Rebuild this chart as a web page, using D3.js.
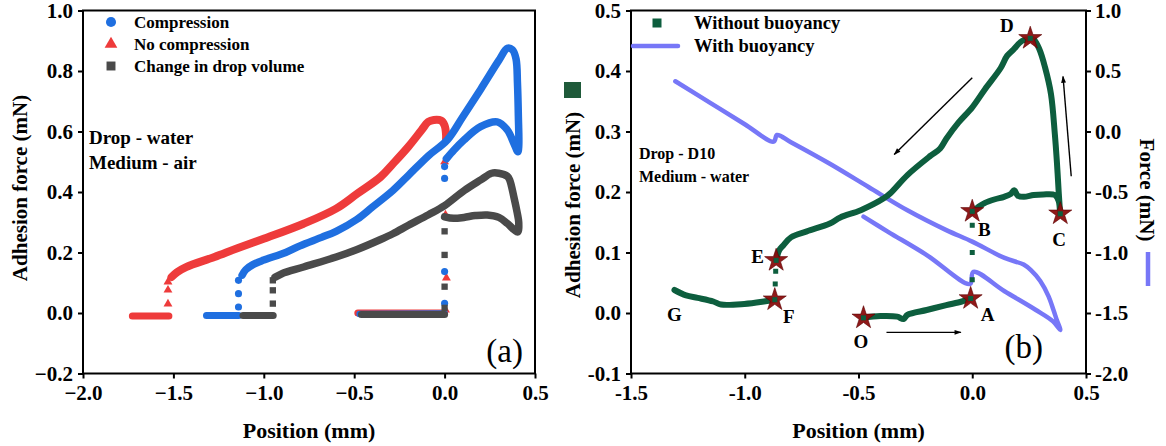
<!DOCTYPE html>
<html><head><meta charset="utf-8">
<script src="https://cdn.jsdelivr.net/npm/d3@7"></script>
<style>
body{margin:0;background:#fff}
svg{display:block}
text{font-family:"Liberation Serif","Times New Roman",serif}
</style>
</head><body>
<svg id="c" width="1166" height="446"></svg>
<script>
// ---------------- Panel (a) data ----------------
const posTicksA = [-2.0, -1.5, -1.0, -0.5, 0.0, 0.5];
const forceTicksA = [-0.2, 0.0, 0.2, 0.4, 0.6, 0.8, 1.0];
const seriesNamesA = ["Compression", "No compression", "Change in drop volume"];

// Compression (blue)
const compFlatX = [-1.317, -1.139];
const compFlatY = [-0.008, -0.008];
const compApproachX = [-0.47, 0.0];
const compApproachY = [-0.003, -0.002];
const compJumpX = [-1.14, -1.14, -1.14, 0.0, 0.0, 0.0, 0.0];
const compJumpY = [0.02, 0.064, 0.108, 0.032, 0.137, 0.445, 0.484];
const compLoopX = [0.01, 0.052, 0.107, 0.199, 0.291, 0.347, 0.383, 0.405, 0.41, 0.408, 0.403, 0.395, 0.375, 0.347, 0.3, 0.2, 0.1, 0.015, -0.089, -0.2, -0.286, -0.4, -0.484, -0.6, -0.681, -0.8, -0.879, -1.0, -1.06, -1.1, -1.12];
const compLoopY = [0.51, 0.539, 0.572, 0.616, 0.632, 0.605, 0.561, 0.533, 0.55, 0.65, 0.76, 0.84, 0.87, 0.875, 0.835, 0.74, 0.648, 0.572, 0.52, 0.455, 0.405, 0.35, 0.31, 0.27, 0.25, 0.222, 0.2, 0.175, 0.16, 0.143, 0.125];

// No compression (red)
const noCompFlatX = [-1.727, -1.525];
const noCompFlatY = [-0.01, -0.01];
const noCompApproachX = [-0.48, 0.0];
const noCompApproachY = [0.0, 0.0];
const noCompJumpX = [-1.53, -1.53, -1.53, 0.005, 0.01, 0.005, 0.0];
const noCompJumpY = [0.03, 0.076, 0.103, 0.01, 0.116, 0.324, 0.5];
const noCompCurveX = [0.008, 0.008, 0.0, -0.02, -0.06, -0.09, -0.128, -0.2, -0.286, -0.354, -0.484, -0.6, -0.78, -0.997, -1.15, -1.273, -1.43, -1.48, -1.51];
const noCompCurveY = [0.575, 0.59, 0.62, 0.636, 0.638, 0.632, 0.604, 0.55, 0.493, 0.45, 0.394, 0.345, 0.295, 0.246, 0.213, 0.185, 0.152, 0.135, 0.119];

// Change in drop volume (dark grey)
const volFlatX = [-1.115, -0.948];
const volFlatY = [-0.008, -0.008];
const volApproachX = [-0.46, 0.0];
const volApproachY = [-0.005, -0.005];
const volJumpX = [-0.95, -0.95, -0.95, 0.0, 0.0, 0.0, 0.0];
const volJumpY = [0.031, 0.075, 0.108, 0.017, 0.087, 0.192, 0.27];
const volLoopX = [0.0, 0.05, 0.107, 0.17, 0.236, 0.3, 0.347, 0.385, 0.405, 0.41, 0.402, 0.383, 0.36, 0.347, 0.3, 0.26, 0.2, 0.109, 0.0, -0.089, -0.2, -0.286, -0.354, -0.484, -0.6, -0.78, -0.9, -0.938];
const volLoopY = [0.318, 0.313, 0.316, 0.322, 0.324, 0.316, 0.296, 0.275, 0.268, 0.3, 0.33, 0.384, 0.44, 0.452, 0.462, 0.462, 0.44, 0.405, 0.355, 0.325, 0.29, 0.262, 0.243, 0.21, 0.185, 0.152, 0.13, 0.118];

// ---------------- Panel (b) data ----------------
const posTicksB = [-1.5, -1.0, -0.5, 0.0, 0.5];
const adhTicksB = [-0.1, 0.0, 0.1, 0.2, 0.3, 0.4, 0.5];
const forceTicksB = [-2.0, -1.5, -1.0, -0.5, 0.0, 0.5, 1.0];
const seriesNamesB = ["Without buoyancy", "With buoyancy"];

// Without buoyancy (adhesion force, left axis) segments
const oaX = [-0.481, -0.404, -0.33, -0.302, -0.285, -0.2, -0.114, -0.046, -0.007];
const oaY = [-0.008, -0.005, -0.006, -0.01, -0.003, 0.005, 0.013, 0.019, 0.024];
const abDotsX = [0.0, 0.0, 0.0];
const abDotsY = [0.055, 0.1, 0.145];
const bcdeX = [0.0, 0.03, 0.056, 0.1, 0.14, 0.17, 0.184, 0.2, 0.227, 0.27, 0.312, 0.363, 0.38, 0.386, 0.38, 0.372, 0.363, 0.346, 0.32, 0.295, 0.27, 0.253, 0.22, 0.18, 0.153, 0.125, 0.056, 0.0, -0.06, -0.114, -0.141, -0.183, -0.285, -0.36, -0.387, -0.49, -0.58, -0.626, -0.727, -0.797, -0.83, -0.848, -0.862];
const bcdeY = [0.166, 0.176, 0.182, 0.188, 0.192, 0.197, 0.203, 0.194, 0.192, 0.195, 0.196, 0.195, 0.185, 0.164, 0.2, 0.25, 0.296, 0.362, 0.406, 0.436, 0.452, 0.453, 0.45, 0.435, 0.425, 0.405, 0.37, 0.34, 0.315, 0.288, 0.272, 0.26, 0.228, 0.198, 0.19, 0.17, 0.158, 0.148, 0.135, 0.125, 0.112, 0.104, 0.087];
const efDotsX = [-0.864, -0.866];
const efDotsY = [0.069, 0.048];
const fgX = [-0.868, -0.916, -1.002, -1.104, -1.138, -1.207, -1.258, -1.309];
const fgY = [0.022, 0.019, 0.015, 0.014, 0.019, 0.025, 0.029, 0.038];

// With buoyancy (force, right axis)
const buoyX = [-0.478, -0.37, -0.2, -0.01, 0.005, 0.142, 0.278, 0.355, 0.387, 0.372, 0.357, 0.335, 0.299, 0.26, 0.226, 0.142, 0.0, -0.114, -0.285, -0.456, -0.626, -0.797, -0.858, -0.873, -1.0, -1.15, -1.305];
const buoyY = [-0.704, -0.829, -1.021, -1.26, -1.16, -1.32, -1.473, -1.569, -1.64, -1.56, -1.475, -1.36, -1.235, -1.15, -1.1, -1.045, -0.91, -0.815, -0.651, -0.459, -0.267, -0.089, -0.029, -0.084, 0.06, 0.235, 0.415];

// Key points (stars) and their letters
const pointNames = ["O", "A", "B", "C", "D", "E", "F", "G"];
const starX = [-0.478, -0.007, 0.0, 0.387, 0.255, -0.862, -0.868];
const starY = [-0.008, 0.024, 0.168, 0.164, 0.454, 0.087, 0.022];
const letterX = [-0.49, 0.067, 0.053, 0.382, 0.152, -0.943, -0.806, -1.309];
const letterY = [-0.047, -0.003, 0.138, 0.121, 0.476, 0.094, -0.005, -0.003];

// Direction arrows [x1, y1, x2, y2] in data units (left axis)
const arrowsB = [
  [0.0, 0.389, -0.343, 0.262],
  [0.435, 0.226, 0.399, 0.391],
  [-0.377, -0.032, -0.05, -0.032]
];

// ---------------- Drawing ----------------
const zip = (xs, ys) => xs.map((x, i) => [x, ys[i]]);
const svg = d3.select("#c");
const FONT = '"Liberation Serif","Times New Roman",serif';
const smooth = d3.curveCatmullRom.alpha(0.5);

const cBlue = "#1f6fe0", cRed = "#ee3b3b", cGrey = "#4a4a4a";
const cGreen = "#0d5e3e", cLine = "#7777f7", cStar = "#8a0d0d";

function styleAxis(g, size) {
  g.select(".domain").remove();
  g.selectAll(".tick line").attr("stroke", "#000").attr("stroke-width", 2);
  g.selectAll(".tick text").attr("fill", "#000").style("font-family", FONT)
    .style("font-weight", "bold").style("font-size", size + "px");
}

// ===== Panel (a) =====
const xA = d3.scaleLinear().domain([-2, 0.5]).range([83, 535]);
const yA = d3.scaleLinear().domain([-0.2, 1.0]).range([373.5, 10.5]);
const gA = svg.append("g");

const lineA = d3.line().x(d => xA(d[0])).y(d => yA(d[1])).curve(smooth);

function thick(g, xs, ys, color, w) {
  g.append("path").datum(zip(xs, ys)).attr("d", lineA).attr("fill", "none")
    .attr("stroke", color).attr("stroke-width", w)
    .attr("stroke-linejoin", "round").attr("stroke-linecap", "round");
}
function markers(g, xs, ys, type, size, color) {
  g.selectAll(null).data(zip(xs, ys)).enter().append("path")
    .attr("d", d3.symbol().type(type).size(size))
    .attr("transform", d => `translate(${xA(d[0])},${yA(d[1])})`)
    .attr("fill", color);
}

// red
thick(gA, noCompFlatX, noCompFlatY, cRed, 7);
thick(gA, noCompCurveX, noCompCurveY, cRed, 8);
thick(gA, noCompApproachX, noCompApproachY, cRed, 7);
markers(gA, noCompJumpX, noCompJumpY, d3.symbolTriangle, 34, cRed);
// blue
thick(gA, compFlatX, compFlatY, cBlue, 7);
thick(gA, compLoopX, compLoopY, cBlue, 7.5);
thick(gA, compApproachX, compApproachY, cBlue, 6.5);
markers(gA, compJumpX, compJumpY, d3.symbolCircle, 40, cBlue);
// grey
thick(gA, volFlatX, volFlatY, cGrey, 7);
thick(gA, volLoopX, volLoopY, cGrey, 7.5);
thick(gA, volApproachX, volApproachY, cGrey, 7);
markers(gA, volJumpX, volJumpY, d3.symbolSquare, 40, cGrey);

// axes (a)
gA.append("g").attr("transform", "translate(0,373.5)")
  .call(d3.axisBottom(xA).tickValues(posTicksA).tickFormat(d3.format(".1f")).tickSize(5).tickSizeOuter(0).tickPadding(7))
  .call(g => styleAxis(g, 21));
gA.append("g").attr("transform", "translate(83,0)")
  .call(d3.axisLeft(yA).tickValues(forceTicksA).tickFormat(d3.format(".1f")).tickSize(5).tickSizeOuter(0).tickPadding(5))
  .call(g => styleAxis(g, 21));
gA.append("rect").attr("x", 83).attr("y", 10.5).attr("width", 452).attr("height", 363)
  .attr("fill", "none").attr("stroke", "#000").attr("stroke-width", 2);

// legend (a)
const legA = [[d3.symbolCircle, 80, cBlue], [d3.symbolTriangle, 70, cRed], [d3.symbolSquare, 80, cGrey]];
seriesNamesA.forEach((name, i) => {
  const yy = 22 + i * 22;
  gA.append("path").attr("d", d3.symbol().type(legA[i][0]).size(legA[i][1])())
    .attr("transform", `translate(111,${yy})`).attr("fill", legA[i][2]);
  gA.append("text").attr("x", 134).attr("y", yy + 6).text(name)
    .style("font-weight", "bold").style("font-size", "17px");
});
gA.append("text").attr("x", 89).attr("y", 144).text("Drop - water").style("font-weight", "bold").style("font-size", "19px");
gA.append("text").attr("x", 89).attr("y", 169).text("Medium - air").style("font-weight", "bold").style("font-size", "19px");
gA.append("text").attr("x", 523).attr("y", 362).attr("text-anchor", "end").text("(a)").style("font-size", "33px");
gA.append("text").attr("x", 309).attr("y", 438).attr("text-anchor", "middle").text("Position (mm)")
  .style("font-weight", "bold").style("font-size", "22px");
gA.append("text").attr("transform", "translate(27,188) rotate(-90)").attr("text-anchor", "middle")
  .text("Adhesion force (mN)").style("font-weight", "bold").style("font-size", "21px");

// ===== Panel (b) =====
const xB = d3.scaleLinear().domain([-1.5, 0.5]).range([631, 1086]);
const yBL = d3.scaleLinear().domain([-0.1, 0.5]).range([373.5, 10.5]);
const yBR = d3.scaleLinear().domain([-2.0, 1.0]).range([373.5, 10.5]);
const gB = svg.append("g");
const lineBL = d3.line().x(d => xB(d[0])).y(d => yBL(d[1])).curve(smooth);
const lineBR = d3.line().x(d => xB(d[0])).y(d => yBR(d[1])).curve(smooth);
const fmtB = v => d3.format(".1f")(v).replace("\u2212", "-");

gB.append("path").datum(zip(buoyX, buoyY)).attr("d", lineBR).attr("fill", "none")
  .attr("stroke", cLine).attr("stroke-width", 4.5).attr("stroke-linejoin", "round").attr("stroke-linecap", "round");

[[oaX, oaY], [bcdeX, bcdeY], [fgX, fgY]].forEach(([xs, ys]) => {
  gB.append("path").datum(zip(xs, ys)).attr("d", lineBL).attr("fill", "none")
    .attr("stroke", cGreen).attr("stroke-width", 6).attr("stroke-linejoin", "round").attr("stroke-linecap", "round");
});
gB.selectAll(null).data(zip(abDotsX.concat(efDotsX), abDotsY.concat(efDotsY))).enter().append("rect")
  .attr("x", d => xB(d[0]) - 2.5).attr("y", d => yBL(d[1]) - 2.5).attr("width", 5).attr("height", 5).attr("fill", cGreen);

gB.selectAll(null).data(zip(starX, starY)).enter().append("path")
  .attr("d", d3.symbol().type(d3.symbolStar).size(165))
  .attr("transform", d => `translate(${xB(d[0])},${yBL(d[1])})`)
  .attr("fill", cStar).attr("fill-opacity", 0.95).attr("stroke", "#5a0000").attr("stroke-width", 0.6);
gB.selectAll(null).data(zip(starX, starY)).enter().append("rect")
  .attr("x", d => xB(d[0]) - 2.5).attr("y", d => yBL(d[1]) - 2.5).attr("width", 5).attr("height", 5).attr("fill", cGreen);

pointNames.forEach((n, i) => {
  gB.append("text").attr("x", xB(letterX[i])).attr("y", yBL(letterY[i])).attr("dy", "0.35em")
    .attr("text-anchor", "middle").text(n).style("font-weight", "bold").style("font-size", "19px");
});

const defs = svg.append("defs");
defs.append("marker").attr("id", "ah").attr("viewBox", "0 0 10 10").attr("refX", 9).attr("refY", 5)
  .attr("markerWidth", 9).attr("markerHeight", 7).attr("orient", "auto").attr("markerUnits", "userSpaceOnUse")
  .append("path").attr("d", "M0,1.5 L10,5 L0,8.5 Z").attr("fill", "#000");
arrowsB.forEach(a => {
  gB.append("line").attr("x1", xB(a[0])).attr("y1", yBL(a[1])).attr("x2", xB(a[2])).attr("y2", yBL(a[3]))
    .attr("stroke", "#000").attr("stroke-width", 1.4).attr("marker-end", "url(#ah)");
});

// axes (b)
gB.append("g").attr("transform", "translate(0,373.5)")
  .call(d3.axisBottom(xB).tickValues(posTicksB).tickFormat(fmtB).tickSize(5).tickSizeOuter(0).tickPadding(7))
  .call(g => styleAxis(g, 21));
gB.append("g").attr("transform", "translate(631,0)")
  .call(d3.axisLeft(yBL).tickValues(adhTicksB).tickFormat(fmtB).tickSize(5).tickSizeOuter(0).tickPadding(5))
  .call(g => styleAxis(g, 21));
gB.append("g").attr("transform", "translate(1086,0)")
  .call(d3.axisRight(yBR).tickValues(forceTicksB).tickFormat(fmtB).tickSize(5).tickSizeOuter(0).tickPadding(4))
  .call(g => styleAxis(g, 21));
gB.append("rect").attr("x", 631).attr("y", 10.5).attr("width", 455).attr("height", 363)
  .attr("fill", "none").attr("stroke", "#000").attr("stroke-width", 2);

// legend (b)
gB.append("rect").attr("x", 652.5).attr("y", 18.5).attr("width", 9).attr("height", 9).attr("fill", cGreen);
gB.append("text").attr("x", 694).attr("y", 29).text(seriesNamesB[0]).style("font-weight", "bold").style("font-size", "18.5px");
gB.append("line").attr("x1", 633).attr("x2", 678).attr("y1", 46).attr("y2", 46)
  .attr("stroke", cLine).attr("stroke-width", 4.5).attr("stroke-linecap", "round");
gB.append("text").attr("x", 694).attr("y", 52).text(seriesNamesB[1]).style("font-weight", "bold").style("font-size", "18.5px");

gB.append("text").attr("x", 639).attr("y", 159).text("Drop - D10").style("font-weight", "bold").style("font-size", "16px");
gB.append("text").attr("x", 639).attr("y", 182).text("Medium - water").style("font-weight", "bold").style("font-size", "16px");
gB.append("text").attr("x", 1043).attr("y", 358).attr("text-anchor", "end").text("(b)").style("font-size", "33px");
gB.append("text").attr("x", 858.5).attr("y", 438).attr("text-anchor", "middle").text("Position (mm)")
  .style("font-weight", "bold").style("font-size", "22px");
gB.append("text").attr("transform", "translate(580,205) rotate(-90)").attr("text-anchor", "middle")
  .text("Adhesion force (mN)").style("font-weight", "bold").style("font-size", "21px");
gB.append("rect").attr("x", 564).attr("y", 82).attr("width", 17).attr("height", 16).attr("fill", "#1f5a3a");
gB.append("text").attr("transform", "translate(1140,190) rotate(90)").attr("text-anchor", "middle")
  .text("Force (mN)").style("font-weight", "bold").style("font-size", "21px");
gB.append("line").attr("x1", 1148).attr("x2", 1148).attr("y1", 252).attr("y2", 286)
  .attr("stroke", cLine).attr("stroke-width", 4.5);
</script>
</body></html>
